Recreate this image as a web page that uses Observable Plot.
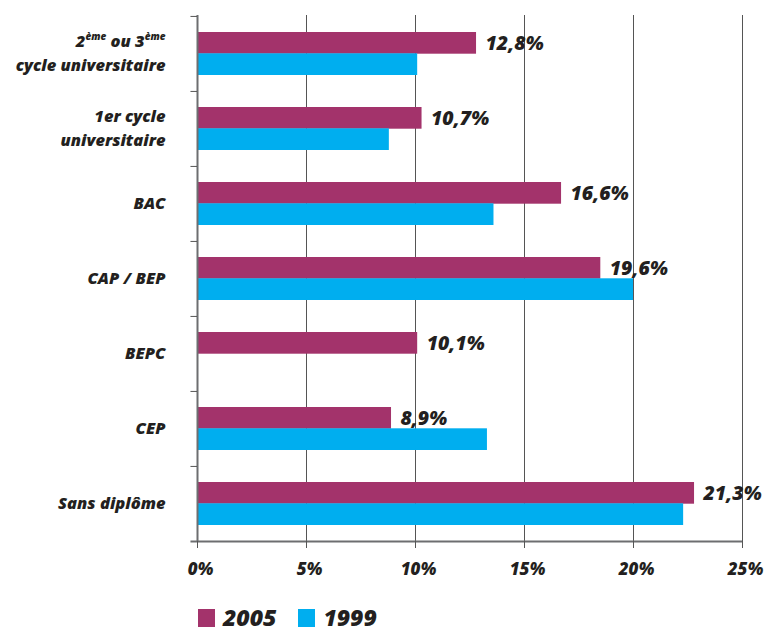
<!DOCTYPE html>
<html><head><meta charset="utf-8">
<script src="https://cdn.jsdelivr.net/npm/d3@7"></script>
<script src="https://cdn.jsdelivr.net/npm/@observablehq/plot@0.6"></script>
<style>
body{margin:0;background:#fff;font-family:"Open Sans",sans-serif;}
#wrap{position:relative;width:766px;height:632px;overflow:hidden}
#legend{position:absolute;left:198px;top:604px;display:flex;align-items:center;font-weight:800;font-style:italic;font-size:23px;color:#231f20;line-height:27px}
.sw{width:17px;height:18px;display:inline-block;margin-right:8px}
.item{display:flex;align-items:center;margin-right:22px}
</style></head><body><div id="wrap"><div id="chart"></div><div id="legend"></div></div>
<script>
const categories = ["2ème ou 3ème\ncycle universitaire","1er cycle\nuniversitaire","BAC","CAP / BEP","BEPC","CEP","Sans diplôme"];
const years = ["2005","1999"];
const values2005 = [12.8,10.3,16.7,18.5,10.1,8.9,22.8];
const values1999 = [10.1,8.8,13.6,20.0,null,13.3,22.3];
const labels2005 = ["12,8%","10,7%","16,6%","19,6%","10,1%","8,9%","21,3%"];
const xTicks = [0,5,10,15,20,25];
const colors = ["#a3336b","#00aeef"];

const H = 600, mt = 15, mb = 59;
const step = (H - mt - mb) / categories.length;
const pi = 0.433;
const half = step * (1 - pi) / 2;

const rows2005 = categories.map((c,i)=>({c, v: values2005[i], l: labels2005[i]}));
const rows1999 = categories.map((c,i)=>({c, v: values1999[i]})).filter(d=>d.v!=null);

const chart = Plot.plot({
  width: 766, height: H,
  marginTop: mt, marginBottom: mb, marginLeft: 197, marginRight: 24,
  style: {fontFamily: '"Open Sans", sans-serif', fontWeight: 800, fontStyle: "italic", color: "#231f20", background: "#fff"},
  x: {domain: [0,25], ticks: xTicks, label: null},
  y: {domain: categories, paddingInner: pi, paddingOuter: pi/2, axis: null, label: null},
  marks: [
    Plot.gridX(xTicks.slice(1), {stroke: "#555", strokeOpacity: 1}),
    Plot.barX(rows2005, {x: "v", y: "c", fill: colors[0], insetBottom: half}),
    Plot.barX(rows1999, {x: "v", y: "c", fill: colors[1], insetTop: half}),
    Plot.ruleX([0], {stroke: "#6d6e70", strokeWidth: 2}),
    Plot.ruleY(categories, {y: d=>d, x1: -0.3, x2: 0, dy: -step/2, stroke: "#555"}),
    Plot.ruleY([categories[categories.length-1]], {y: d=>d, x1: -0.3, x2: 25, dy: step/2, stroke: "#6d6e70", strokeWidth: 2}),
    Plot.axisX({ticks: xTicks, tickSize: 7, text: null, stroke: "#555", label: null}),
    Plot.axisX({ticks: xTicks, tickSize: 0, tickPadding: 21, dx: 3, tickFormat: d=>d+"%", fontSize: 17, label: null}),
    Plot.text(categories, {y: d=>d, frameAnchor: "left", dx: -32, dy: -3, textAnchor: "end", fontSize: 16.5, lineHeight: 1.5, fill: "#231f20"}),
    Plot.text(rows2005, {x: "v", y: "c", text: "l", dx: 9, dy: -half/2, textAnchor: "start", fontSize: 19.5, fill: "#231f20"})
  ]
});
document.getElementById("chart").appendChild(chart);

// superscripts
const ns = "http://www.w3.org/2000/svg";
for (const ts of chart.querySelectorAll("tspan, text")) {
  if (ts.childElementCount === 0 && ts.textContent === "2ème ou 3ème") {
    ts.textContent = "";
    for (const [s, sup] of [["2",false],["ème",true],[" ou 3",false],["ème",true]]) {
      const t = document.createElementNS(ns, "tspan");
      t.textContent = s;
      if (sup) { t.setAttribute("font-size", "10"); t.setAttribute("baseline-shift", "super"); }
      ts.appendChild(t);
    }
  }
}

const legend = document.getElementById("legend");
years.forEach((y,i)=>{
  const it = document.createElement("div"); it.className = "item";
  const sw = document.createElement("span"); sw.className = "sw"; sw.style.background = colors[i];
  const tx = document.createElement("span"); tx.textContent = y;
  it.appendChild(sw); it.appendChild(tx); legend.appendChild(it);
});
</script></body></html>
